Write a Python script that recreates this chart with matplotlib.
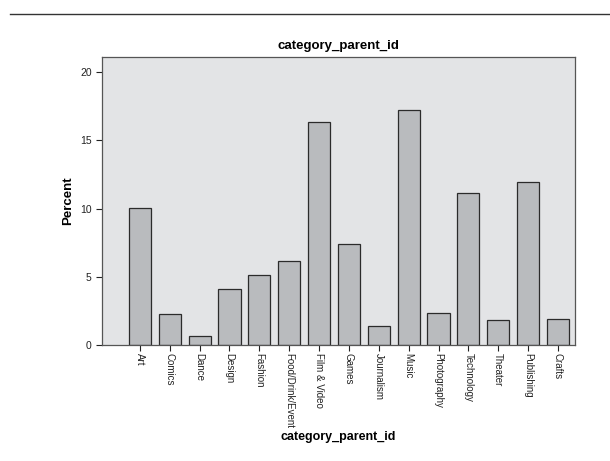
import matplotlib.pyplot as plt
import numpy as np

categorias = ['Art', 'Comics', 'Dance', 'Design', 'Fashion', 'Food/Drink/Event',
              'Film & Video', 'Games', 'Journalism', 'Music', 'Photography',
              'Technology', 'Theater', 'Publishing', 'Crafts']
percentuais = [10.05, 2.28, 0.65, 4.1, 5.12, 6.12, 16.35, 7.4, 1.4, 17.25,
               2.35, 11.15, 1.82, 11.92, 1.88]

plt.rcParams['font.family'] = ['Liberation Sans', 'DejaVu Sans']

fig = plt.figure(figsize=(6.1, 4.61), dpi=100)
ax = fig.add_axes([0.1672, 0.2516, 0.7754, 0.6248])

# Linha horizontal no topo
fig.add_artist(plt.Line2D([0.016, 1.0], [0.97, 0.97], color='#333333', linewidth=1.0))

posicoes = np.arange(len(categorias))
ax.bar(posicoes, percentuais, width=0.74, color='#b9bbbe',
       edgecolor='#2b2b2b', linewidth=0.9)

ax.set_facecolor('#e3e4e6')
ax.set_xlim(-1.27, 14.57)
ax.set_ylim(0, 21.1)
ax.set_yticks([0, 5, 10, 15, 20])
ax.set_xticks(posicoes)
ax.set_xticklabels(categorias, rotation=-90, fontsize=7)
ax.tick_params(axis='y', labelsize=7.5, length=4, width=0.8, colors='#222222')
ax.tick_params(axis='x', length=4, width=0.8, colors='#222222', pad=2)

for lado in ax.spines.values():
    lado.set_color('#555555')
    lado.set_linewidth(0.9)

ax.set_ylabel('Percent', fontsize=9.5, fontweight='bold', labelpad=4)
ax.set_title('category_parent_id', fontsize=9.5, fontweight='bold', pad=6)
fig.text(0.554, 1 - 437 / 461, 'category_parent_id', fontsize=9,
         fontweight='bold', ha='center', va='center')

fig.savefig('out.png', dpi=100)
